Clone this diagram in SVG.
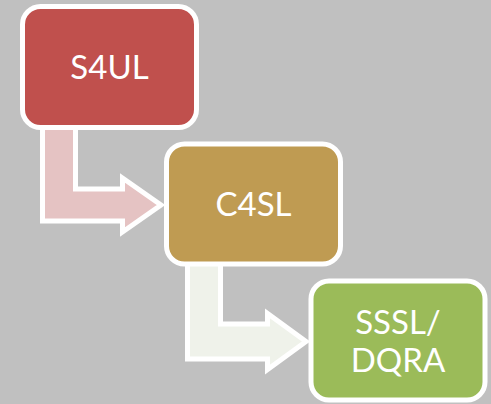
<svg xmlns="http://www.w3.org/2000/svg" width="491" height="404" viewBox="0 0 491 404">
<style>
.box{stroke:#FFFFFF;stroke-width:5}
.arr{stroke:#FFFFFF;stroke-width:5;stroke-linejoin:miter}
.lbl{font-family:Lato,"Open Sans","Liberation Sans",sans-serif;font-size:33px;fill:#FFFFFF;text-anchor:middle}
</style>
<rect width="491" height="404" fill="#C0C0C0"/>
<g id="connectors">
<polygon class="arr" fill="#E5C3C3" points="42.5,120 75.5,120 75.5,189 122.5,189 122.5,178 161,205 122.5,232 122.5,221 42.5,221"/>
<polygon class="arr" fill="#EFF2EA" points="187.5,255 220.5,255 220.5,324 267.5,324 267.5,313.5 306,341.5 267.5,369.5 267.5,359 187.5,359"/>
</g>
<g id="node-s4ul">
<rect class="box" x="22.5" y="6.5" width="174" height="121" rx="18" fill="#C0504D"/>
<text class="lbl" x="109.5" y="79">S4UL</text>
</g>
<g id="node-c4sl">
<rect class="box" x="166.5" y="144" width="174" height="120" rx="18" fill="#BF9B52"/>
<text class="lbl" x="253.5" y="216">C4SL</text>
</g>
<g id="node-sssl-dqra">
<rect class="box" x="311" y="281" width="174" height="119" rx="18" fill="#9BBB59"/>
<text class="lbl" x="398" y="334">SSSL/</text>
<text class="lbl" x="398" y="371.5">DQRA</text>
</g>
</svg>
